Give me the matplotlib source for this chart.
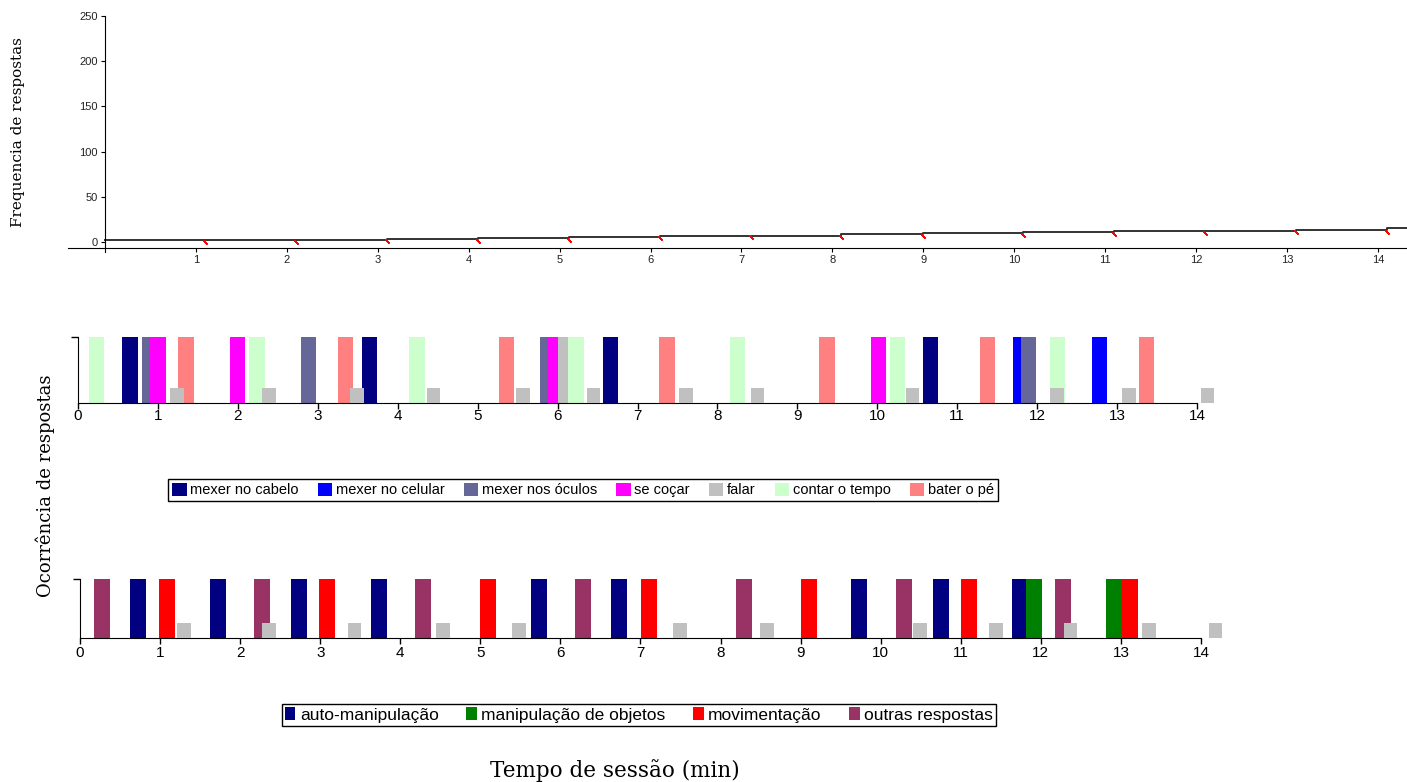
import matplotlib
matplotlib.use('Agg')
import matplotlib.pyplot as plt
from matplotlib.patches import Patch

# --- dados ---
# registro cumulativo (painel superior)
step_times = [0, 1.1, 2.1, 3.1, 4.1, 5.1, 6.1, 7.1, 8.1, 9.0, 10.1, 11.1, 12.1, 13.1, 14.1]
step_counts = [2, 2, 2.5, 3, 4, 6, 7, 7, 8.5, 10, 11, 12, 12.5, 13, 15]
top_yticks = [0, 50, 100, 150, 200, 250]
minutes = list(range(0, 15))

# ocorrência por resposta (painel do meio)
mid_names = ['mexer no cabelo', 'mexer no celular', 'mexer nos óculos', 'se coçar',
             'falar', 'contar o tempo', 'bater o pé']
mid_colors = ['#000080', '#0000FF', '#666699', '#FF00FF', '#C0C0C0', '#CCFFCC', '#FF8080']
cabelo_x = [0.65, 3.65, 6.66, 10.67]
celular_x = [11.79, 12.78]
oculos_x = [0.89, 2.88, 5.88, 11.89]
cocar_x = [1.0, 2.0, 5.96, 10.01]
falar_x = [6.1, 1.24, 2.39, 3.49, 4.45, 5.57, 6.45, 7.61, 8.5, 10.44, 12.25, 13.15, 14.13]
falar_h = [1, 0.22, 0.22, 0.22, 0.22, 0.22, 0.22, 0.22, 0.22, 0.22, 0.22, 0.22, 0.22]
contar_x = [0.23, 2.24, 4.24, 6.23, 8.25, 10.25, 12.25]
bater_x = [1.35, 3.35, 5.36, 7.37, 9.37, 11.38, 13.37]

# ocorrência por classe (painel inferior)
bot_names = ['auto-manipulação', 'manipulação de objetos', 'movimentação', 'outras respostas']
bot_colors = ['#000080', '#008000', '#FF0000', '#993366']
auto_x = [0.73, 1.72, 2.74, 3.73, 5.73, 6.73, 9.73, 10.75, 11.74]
objetos_x = [11.91, 12.92]
movim_x = [1.09, 3.09, 5.1, 7.11, 9.1, 11.1, 13.11]
outras_x = [0.27, 2.27, 4.28, 6.28, 8.29, 10.29, 12.28]
marca_x = [1.3, 2.36, 3.43, 4.53, 5.48, 7.49, 8.58, 10.49, 11.44, 12.37, 13.35, 14.18]
marca_h = 0.25

W, H = 1407, 782
fig = plt.figure(figsize=(W / 100, H / 100), dpi=100)
sans = ['Liberation Sans', 'DejaVu Sans']
serif = 'DejaVu Serif'


def rect(x0, y0, x1, y1):
    return [x0 / W, 1 - y1 / H, (x1 - x0) / W, (y1 - y0) / H]


# ---------- painel superior ----------
ax1 = fig.add_axes(rect(68, 16, 1407, 252))
ax1.set_xlim(-0.407, 14.32)
ax1.set_ylim(-11.06, 250)
ax1.step(step_times + [14.32], step_counts + [step_counts[-1]], where='post',
         color='#333333', linewidth=1.4)
ax1.plot(step_times[1:], [c - 1.8 for c in step_counts[:-1]], linestyle='none',
         marker=(2, 2, 45), markersize=4, color='red', markeredgewidth=1.1)
for s in ['top', 'right']:
    ax1.spines[s].set_visible(False)
ax1.spines['left'].set_position(('data', 0))
ax1.spines['bottom'].set_position(('data', -6.6))
ax1.set_yticks(top_yticks)
ax1.set_xticks(minutes[1:])
ax1.tick_params(labelsize=8, length=3, width=0.8, pad=2, labelcolor='#222222')
for lab in ax1.get_xticklabels() + ax1.get_yticklabels():
    lab.set_family(sans)
fig.text(18 / W, 1 - 132 / H, 'Frequencia de respostas', family=serif, fontsize=11,
         rotation=90, ha='center', va='center')


def style_bar_axes(ax, pad):
    ax.set_xlim(0, 14.5)
    ax.set_ylim(0, 1.1)
    for s in ['top', 'right']:
        ax.spines[s].set_visible(False)
    ax.spines['bottom'].set_bounds(0, 14)
    ax.spines['left'].set_bounds(0, 1)
    ax.set_xticks(minutes)
    ax.set_yticks([1])
    ax.set_yticklabels([''])
    ax.tick_params(axis='x', labelsize=11, length=4, width=1, pad=pad)
    ax.tick_params(axis='y', length=5, width=1)
    for lab in ax.get_xticklabels():
        lab.set_family(sans)


def draw_bars(ax, xs, heights, color, width):
    bars = ax.bar(xs, heights, width=width, color=color, linewidth=0)
    for b, x, h in zip(bars, xs, heights):
        b.set_zorder(2 + x / 100 + (5 if h < 0.5 else 0))


# ---------- painel do meio ----------
ax2 = fig.add_axes(rect(78, 330.4, 1237, 403))
mid_x = [cabelo_x, celular_x, oculos_x, cocar_x, falar_x, contar_x, bater_x]
for xs, col, name in zip(mid_x, mid_colors, mid_names):
    hs = falar_h if name == 'falar' else [1] * len(xs)
    w = [0.17 if h < 0.5 else 0.19 for h in hs]
    draw_bars(ax2, xs, hs, col, w)
style_bar_axes(ax2, 0.5)

handles = [Patch(facecolor=c, edgecolor='none') for c in mid_colors]
fig.legend(handles, mid_names, loc='center', bbox_to_anchor=(583 / W, 1 - 490 / H),
           ncol=7, frameon=True, fancybox=False, edgecolor='black', framealpha=1,
           handlelength=1.0, handleheight=1.0, handletextpad=0.25, columnspacing=1.3,
           borderpad=0.25, borderaxespad=0, prop={'family': sans, 'size': 10.5})

# ---------- painel inferior ----------
ax3 = fig.add_axes(rect(80, 573.1, 1241, 638))
bot_x = [auto_x, objetos_x, movim_x, outras_x]
for xs, col in zip(bot_x, bot_colors):
    draw_bars(ax3, xs, [1] * len(xs), col, 0.2)
draw_bars(ax3, marca_x, [marca_h] * len(marca_x), '#C0C0C0', 0.17)
style_bar_axes(ax3, 2)

handles = [Patch(facecolor=c, edgecolor='none') for c in bot_colors]
fig.legend(handles, bot_names, loc='center', bbox_to_anchor=(639 / W, 1 - 715 / H),
           ncol=4, frameon=True, fancybox=False, edgecolor='black', framealpha=1,
           handlelength=0.6, handleheight=0.8, handletextpad=0.25, columnspacing=1.6,
           borderpad=0.2, borderaxespad=0, prop={'family': sans, 'size': 12.5})

fig.text(45 / W, 1 - 486 / H, 'Ocorrência de respostas', family=serif, fontsize=13,
         rotation=90, ha='center', va='center')
fig.text(615 / W, 1 - 771 / H, 'Tempo de sessão (min)', family=serif, fontsize=15.5,
         ha='center', va='center')

fig.savefig('out.png', dpi=100)
